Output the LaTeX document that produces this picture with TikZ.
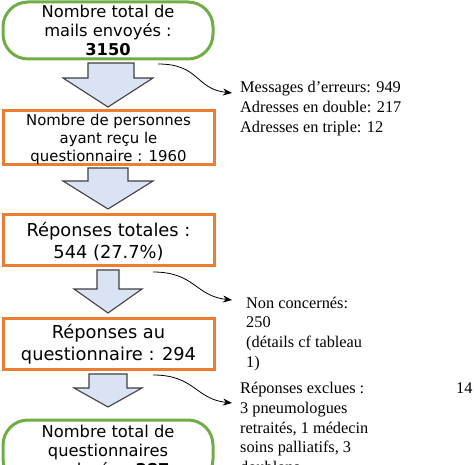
\documentclass[tikz,border=0pt]{standalone}
\usepackage{fontspec}
\setmainfont{Liberation Serif}
\newfontfamily\dejavu{DejaVu Sans}
\usetikzlibrary{arrows.meta}
\definecolor{boxgreen}{HTML}{70AD47}
\definecolor{boxorange}{HTML}{ED7D31}
\definecolor{arrowfill}{HTML}{DAE3F3}
\definecolor{arrowline}{HTML}{404040}
\tikzset{
  greenbox/.style={draw=boxgreen, line width=3pt, rounded corners=25pt,
    minimum width=210pt, minimum height=57pt, inner sep=0pt, align=center,
    font=\dejavu\fontsize{16.3}{19.3}\selectfont},
  orangebox/.style={draw=boxorange, line width=3pt, inner sep=0pt, align=center,
    minimum width=211pt},
  blockarrow/.style={fill=arrowfill, draw=arrowline, line width=1.1pt, line join=miter},
  curved/.style={-{Stealth[length=9pt,width=7pt]}, line width=0.8pt},
  note/.style={inner sep=0pt, align=left, anchor=north west,
    font=\fontsize{16.3}{19.8}\selectfont}
}
\begin{document}
\begin{tikzpicture}[x=1pt,y=-1pt]
\useasboundingbox (0,0) rectangle (474,465);
\clip (0,0) rectangle (474,465);
% boxes
\node[greenbox] (n1) at (108,30.5) {Nombre total de\\mails envoyés :\\\textbf{3150}};
\node[orangebox, minimum height=49pt, font=\dejavu\fontsize{14.9}{18}\selectfont] (n2) at (108.5,137.5)
  {\rule{0pt}{14.3pt}Nombre de personnes\\ayant reçu le\\questionnaire : 1960};
\node[orangebox, minimum height=51pt, font=\dejavu\fontsize{17.8}{22}\selectfont] (n3) at (108.5,240.5)
  {\rule{0pt}{16.5pt}Réponses totales :\\544 (27.7\%)};
\node[orangebox, minimum height=51pt, font=\dejavu\fontsize{17.8}{22}\selectfont] (n4) at (108.5,343.5)
  {\rule{0pt}{16.5pt}Réponses au\\questionnaire : 294};
\node[greenbox, minimum height=64pt] (n5) at (108,452) {Nombre total de\\questionnaires\\analysés : \textbf{287}};
% block arrows
\draw[blockarrow] (88,63) -- (134,63) -- (134,78) -- (153,78) -- (108,107) -- (63,78) -- (88,78) -- cycle;
\draw[blockarrow] (88,168) -- (128,168) -- (128,181) -- (153,181) -- (108,209) -- (63,181) -- (88,181) -- cycle;
\draw[blockarrow] (97,270) -- (119,270) -- (119,289) -- (142,289) -- (108,313) -- (74,289) -- (97,289) -- cycle;
\draw[blockarrow] (89,374) -- (127,374) -- (127,388) -- (142,388) -- (108,407) -- (74,388) -- (89,388) -- cycle;
% notes
\node[note] (m1) at (240,80.9) {Messages d’erreurs: 949\\Adresses en double: 217\\Adresses en triple: 12};
\node[note] (m2) at (246,296.5) {Non concernés:\\250\\(détails cf tableau\\1)};
\node[note] (m3) at (240,381.9) {Réponses exclues :\\3 pneumologues\\retraités, 1 médecin\\soins palliatifs, 3\\doublons};
\node[inner sep=0pt, anchor=base west, font=\fontsize{16.3}{19.8}\selectfont] (m4) at (456,393) {14};
% curved connectors
\coordinate (c1s) at (158,64);  \coordinate (c1e) at (232,93);
\coordinate (c2s) at (153,272); \coordinate (c2e) at (232,300);
\coordinate (c3s) at (153,375); \coordinate (c3e) at (232,403);
\draw[curved] (c1s) .. controls (200,64) and (195,89) .. (c1e);
\draw[curved] (c2s) .. controls (195,272) and (195,296) .. (c2e);
\draw[curved] (c3s) .. controls (195,375) and (195,399) .. (c3e);
\end{tikzpicture}
\end{document}
